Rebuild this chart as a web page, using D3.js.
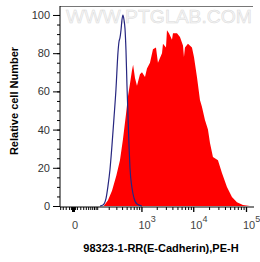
<!DOCTYPE html>
<html>
<head>
<meta charset="utf-8">
<script src="https://cdn.jsdelivr.net/npm/d3@7"></script>
<style>
  body { margin: 0; background: #fff; }
  svg { display: block; font-family: Arial, "Liberation Sans", sans-serif; }
</style>
</head>
<body>
<div id="chart"></div>
<script>
// stained sample (red) : fluorescence value, % of max
const redX = [150, 192, 239, 300, 360, 418, 484, 530, 586, 645, 680, 742, 814, 935, 1025, 1177, 1288, 1475, 1688, 1930,
  2110, 2525, 2640, 3015, 3150, 3440, 3930, 4110, 4900, 5590, 6380, 6660, 6960, 7940, 9460, 10330, 11770, 13420, 14630,
  16700, 19030, 20800, 23670, 29450, 35070, 43600, 54200, 67400, 87500, 118800];
const redY = [0, 3, 8, 16, 24, 35, 48, 57, 64, 71, 74, 67, 63, 69, 70, 67.5, 72, 75, 82, 83,
  75, 80, 85, 83, 92, 90.5, 87, 90.5, 90.5, 88.5, 84, 78, 83, 85, 83, 78, 67.5, 55.5, 52,
  45, 40, 33, 25.7, 24, 17.3, 10, 4.7, 2, 0.5, 0];

// isotype control (blue line)
const isoX = [120, 144, 172, 192, 214, 239, 265, 294, 326, 343, 360, 379, 398, 418, 439, 461, 484, 508, 533, 559,
  586, 645, 708, 814, 1025];
const isoY = [0, 0.5, 4, 10.5, 19, 32, 46, 61, 80.5, 86, 88, 92, 97.5, 100, 97.5, 93, 81.5, 63, 47.6, 32,
  20, 9.4, 4.2, 1, 0];

const yTicks = [0, 20, 40, 60, 80, 100];
const xMajor = [0, 1e3, 1e4, 1e5];
const xMajorExp = [null, 3, 4, 5];
const xMinor = [-40, -30, -20, -10, -5, 5, 10, 20, 30, 40, 50, 60, 70, 80, 90,
  100, 200, 300, 400, 500, 600, 700, 800, 900,
  2000, 3000, 4000, 5000, 6000, 7000, 8000, 9000,
  20000, 30000, 40000, 50000, 60000, 70000, 80000, 90000];

const W = 260, H = 262;
const mLeft = 60, mRight = 253, mTop = 6, mBottom = 206;

const svg = d3.select("#chart").append("svg")
  .attr("width", W).attr("height", H);

// biexponential-like x axis via symlog
const base = d3.scaleSymlog().constant(53.5).domain([0, 1e5]).range([73, 246]);
const x = d3.scaleSymlog().constant(53.5)
  .domain([base.invert(mLeft), base.invert(mRight)])
  .range([mLeft, mRight]);

const y = d3.scaleLinear().domain([0, 104.7]).range([mBottom, mTop]);

// watermark
svg.append("text")
  .attr("x", 66).attr("y", 23)
  .attr("textLength", 186).attr("lengthAdjust", "spacingAndGlyphs")
  .style("font-size", "18px")
  .attr("fill", "#f6f6f6")
  .attr("stroke", "#dadada")
  .attr("stroke-width", 0.5)
  .text("WWW.PTGLAB.COM");

const redData = redX.map((v, i) => ({x: v, y: redY[i]}));
const isoData = isoX.map((v, i) => ({x: v, y: isoY[i]}));

svg.append("path")
  .datum(redData)
  .attr("fill", "#ff0000")
  .attr("d", d3.area().x(d => x(d.x)).y0(y(0)).y1(d => y(d.y)));

svg.append("path")
  .datum(isoData)
  .attr("fill", "none")
  .attr("stroke", "#262680")
  .attr("stroke-width", 1.2)
  .attr("d", d3.line().x(d => x(d.x)).y(d => y(d.y)).curve(d3.curveMonotoneX));

// top frame line
svg.append("line")
  .attr("x1", mLeft).attr("x2", mRight)
  .attr("y1", mTop + 0.5).attr("y2", mTop + 0.5)
  .attr("stroke", "#777");

// y axis
const yMinor = d3.range(0, 101, 5);
svg.append("g")
  .attr("transform", `translate(${mLeft},0)`)
  .call(d3.axisLeft(y).tickValues(yMinor).tickSize(3).tickFormat(""))
  .call(g => g.select(".domain").remove());
const yAxis = svg.append("g")
  .attr("transform", `translate(${mLeft},0)`)
  .call(d3.axisLeft(y).tickValues(yTicks).tickSize(7).tickPadding(3).tickSizeOuter(0));
yAxis.select(".domain").attr("d", `M0,${mTop}V${mBottom + 1}`);
yAxis.selectAll("text").style("font-size", "11px").attr("fill", "#333");

// x axis
const xBase = mBottom + 1;
svg.append("g")
  .attr("transform", `translate(0,${xBase})`)
  .call(d3.axisBottom(x).tickValues(xMinor).tickSize(3).tickFormat(""))
  .call(g => g.select(".domain").remove());
const xAxis = svg.append("g")
  .attr("transform", `translate(0,${xBase})`)
  .call(d3.axisBottom(x).tickValues(xMajor).tickSize(5).tickSizeOuter(0).tickFormat(""));
xAxis.select(".domain").attr("d", `M${mLeft},0H${mRight + 1}`);
xAxis.selectAll(".tick line").attr("stroke-width", 1.3);
xAxis.select(".tick line").attr("stroke-width", 3);

xMajor.forEach((v, i) => {
  const t = svg.append("text")
    .attr("y", 229)
    .style("font-size", "11px")
    .attr("fill", "#444");
  if (xMajorExp[i] === null) {
    t.attr("x", x(v) + 2).attr("text-anchor", "middle").text("0");
  } else {
    t.attr("x", x(v) - 3);
    t.append("tspan").text("10");
    t.append("tspan").attr("dy", -7).style("font-size", "9px").text(xMajorExp[i]);
  }
});

// titles
svg.append("text")
  .attr("x", 161).attr("y", 252)
  .attr("text-anchor", "middle")
  .style("font-size", "11px").style("font-weight", "bold")
  .text("98323-1-RR(E-Cadherin),PE-H");

svg.append("text")
  .attr("transform", "translate(18,101) rotate(-90)")
  .attr("text-anchor", "middle")
  .style("font-size", "11px").style("font-weight", "bold")
  .text("Relative cell Number");
</script>
</body>
</html>
